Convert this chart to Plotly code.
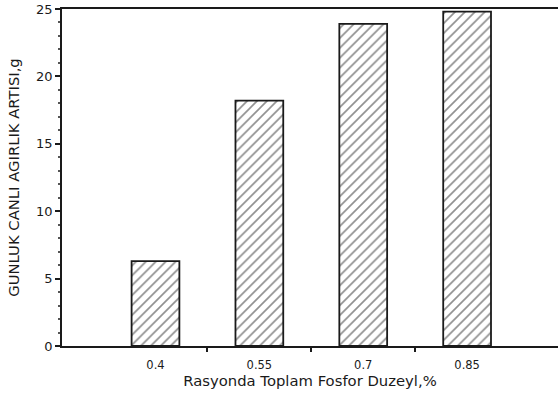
import plotly.graph_objects as go

categories = ["0.4", "0.55", "0.7", "0.85"]
values = [6.3, 18.2, 23.9, 24.8]
y_ticks = [0, 5, 10, 15, 20, 25]

positions = list(range(len(categories)))

fig = go.Figure(go.Bar(
    x=positions, y=values, width=0.46,
    marker=dict(color="white", line=dict(color="#1a1a1a", width=1.8),
                pattern=dict(shape="/", fgcolor="#222", bgcolor="white", size=7, solidity=0.24)),
))

font = dict(family="DejaVu Sans, Arial, sans-serif", size=12, color="#1a1a1a")
fig.update_layout(
    width=558, height=399,
    margin=dict(l=62, r=0, t=9, b=53),
    paper_bgcolor="white", plot_bgcolor="white",
    font=font, showlegend=False,
    xaxis=dict(range=[-0.9, 3.875], tickvals=positions, ticktext=categories,
               ticks="", showgrid=False, zeroline=False, automargin=False,
               showline=True, linecolor="#1a1a1a", linewidth=1.8, mirror=True,
               tickfont=dict(size=11.5), ticklabelstandoff=7,
               minor=dict(tickmode="array", tickvals=[0.5, 1.5, 2.5], ticks="outside",
                          ticklen=4, tickcolor="#1a1a1a", tickwidth=1.8),
               title=dict(text="Rasyonda Toplam Fosfor Duzeyl,%", standoff=5,
                          font=dict(size=14.8))),
    yaxis=dict(range=[0, 25], tickvals=y_ticks, ticks="outside", ticklen=5,
               tickcolor="#1a1a1a", tickwidth=1.8, showgrid=False, zeroline=False,
               automargin=False, tickfont=dict(size=13),
               showline=True, linecolor="#1a1a1a", linewidth=1.8,
               minor=dict(dtick=1, ticks="outside", ticklen=2, tickcolor="#555"),
               title=dict(text="GUNLUK CANLI AGIRLIK ARTISI,g", standoff=13,
                          font=dict(size=14.8))),
)

fig.write_html("out.html", config={"displayModeBar": False},
               post_script="document.body.style.margin='0';document.body.style.overflow='hidden';")
